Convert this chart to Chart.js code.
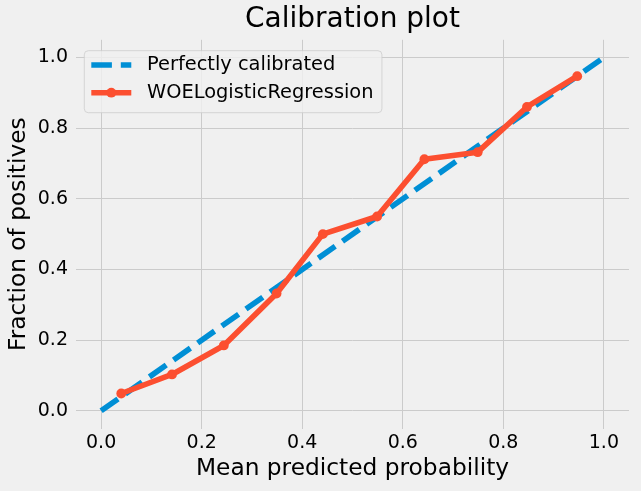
<!DOCTYPE html>
<html>
<head>
<meta charset="utf-8">
<script src="https://cdn.jsdelivr.net/npm/chart.js@4/dist/chart.umd.min.js"></script>
<style>
  html, body { margin: 0; padding: 0; background: #f0f0f0; }
  #c { display: block; }
</style>
</head>
<body>
<canvas id="c" width="641" height="491"></canvas>
<script>
// ---- data ----
const chartTitle = "Calibration plot";
const xAxisTitle = "Mean predicted probability";
const yAxisTitle = "Fraction of positives";
const seriesNames = ["Perfectly calibrated", "WOELogisticRegression"];
const perfectX = [0, 1];
const perfectY = [0, 1];
const meanPredicted = [0.040, 0.141, 0.244, 0.349, 0.441, 0.549, 0.643, 0.749, 0.847, 0.947];
const fractionPositives = [0.049, 0.103, 0.185, 0.332, 0.500, 0.550, 0.712, 0.732, 0.860, 0.947];
const xTicks = [0.0, 0.2, 0.4, 0.6, 0.8, 1.0];
const yTicks = [0.0, 0.2, 0.4, 0.6, 0.8, 1.0];

const BLUE = "#008fd5";
const RED = "#fc4f30";
const FONT = "DejaVu Sans";

const toPts = (xs, ys) => xs.map((x, i) => ({ x: x, y: ys[i] }));

const legendPlugin = {
  id: "innerLegend",
  afterDatasetsDraw(chart) {
    const ctx = chart.ctx;
    const ca = chart.chartArea;
    const fontPx = 19.4;
    ctx.save();
    ctx.font = fontPx + "px '" + FONT + "'";
    const textW = Math.max(...seriesNames.map(n => ctx.measureText(n).width));
    const bx = ca.left + 8.3, by = ca.top + 10.9;
    const padL = 7, handle = 40, gap = 15.7, padR = 8.4;
    const bw = padL + handle + gap + textW + padR, bh = 62;
    const r = 4;
    ctx.beginPath();
    ctx.moveTo(bx + r, by);
    ctx.lineTo(bx + bw - r, by);
    ctx.arcTo(bx + bw, by, bx + bw, by + r, r);
    ctx.lineTo(bx + bw, by + bh - r);
    ctx.arcTo(bx + bw, by + bh, bx + bw - r, by + bh, r);
    ctx.lineTo(bx + r, by + bh);
    ctx.arcTo(bx, by + bh, bx, by + bh - r, r);
    ctx.lineTo(bx, by + r);
    ctx.arcTo(bx, by, bx + r, by, r);
    ctx.closePath();
    ctx.fillStyle = "rgba(240,240,240,0.8)";
    ctx.fill();
    ctx.strokeStyle = "rgba(204,204,204,0.8)";
    ctx.lineWidth = 1;
    ctx.stroke();

    const rows = [by + 14.3, by + 42];
    const hx0 = bx + padL, hx1 = hx0 + handle;
    chart.data.datasets.forEach((ds) => {
      const idx = seriesNames.indexOf(ds.label);
      const yy = rows[idx];
      ctx.beginPath();
      ctx.setLineDash(ds.borderDash || []);
      ctx.lineCap = "butt";
      ctx.strokeStyle = ds.borderColor;
      ctx.lineWidth = ds.borderWidth;
      ctx.moveTo(hx0, yy);
      ctx.lineTo(hx1, yy);
      ctx.stroke();
      ctx.setLineDash([]);
      if (ds.pointRadius > 0) {
        ctx.beginPath();
        ctx.fillStyle = ds.pointBackgroundColor;
        ctx.arc((hx0 + hx1) / 2, yy, ds.pointRadius, 0, Math.PI * 2);
        ctx.fill();
      }
      ctx.fillStyle = "#000";
      ctx.textBaseline = "middle";
      ctx.textAlign = "left";
      ctx.fillText(ds.label, hx1 + gap, yy);
    });
    ctx.restore();
  }
};

new Chart(document.getElementById("c"), {
  type: "line",
  data: {
    datasets: [
      {
        label: seriesNames[0],
        data: toPts(perfectX, perfectY),
        borderColor: BLUE,
        backgroundColor: BLUE,
        borderWidth: 5.6,
        borderDash: [20.6, 8.9],
        borderCapStyle: "butt",
        pointRadius: 0,
        tension: 0,
        order: 2
      },
      {
        label: seriesNames[1],
        data: toPts(meanPredicted, fractionPositives),
        borderColor: RED,
        backgroundColor: RED,
        borderWidth: 5.6,
        borderJoinStyle: "round",
        borderCapStyle: "square",
        pointRadius: 4.9,
        pointBackgroundColor: RED,
        pointBorderWidth: 0,
        pointHoverRadius: 4.9,
        tension: 0,
        order: 1
      }
    ]
  },
  options: {
    responsive: false,
    animation: false,
    events: [],
    layout: { padding: { left: 0, right: 12, top: 0, bottom: 0 } },
    plugins: {
      legend: { display: false },
      tooltip: { enabled: false },
      title: {
        display: true,
        text: chartTitle,
        fullSize: false,
        color: "#000",
        font: { family: FONT, size: 28, weight: "normal", lineHeight: 1.2 },
        padding: { top: 3, bottom: 3.2 }
      }
    },
    scales: {
      x: {
        type: "linear",
        min: -0.05,
        max: 1.05,
        afterBuildTicks: (s) => { s.ticks = xTicks.map(v => ({ value: v })); },
        afterFit: (s) => { s.height = 62.5; },
        grid: { color: "#cbcbcb", lineWidth: 1, drawTicks: false },
        border: { display: false },
        ticks: {
          padding: 3,
          color: "#000",
          font: { family: FONT, size: 19, lineHeight: 1.2 },
          maxRotation: 0,
          autoSkip: false,
          callback: (v) => Number(v).toFixed(1)
        },
        title: {
          display: true,
          text: xAxisTitle,
          color: "#000",
          font: { family: FONT, size: 23.3, lineHeight: 1.2 },
          padding: { top: 0, bottom: 8 }
        }
      },
      y: {
        type: "linear",
        min: -0.05,
        max: 1.05,
        afterBuildTicks: (s) => { s.ticks = yTicks.map(v => ({ value: v })); },
        afterFit: (s) => { s.width = 76; },
        grid: { color: "#cbcbcb", lineWidth: 1, drawTicks: false },
        border: { display: false },
        ticks: {
          padding: 8,
          color: "#000",
          font: { family: FONT, size: 19, lineHeight: 1.2 },
          autoSkip: false,
          callback: (v) => Number(v).toFixed(1)
        },
        title: {
          display: true,
          text: yAxisTitle,
          color: "#000",
          font: { family: FONT, size: 23.3, lineHeight: 1.2 },
          padding: { top: 5, bottom: 0 }
        }
      }
    }
  },
  plugins: [legendPlugin]
});
</script>
</body>
</html>
